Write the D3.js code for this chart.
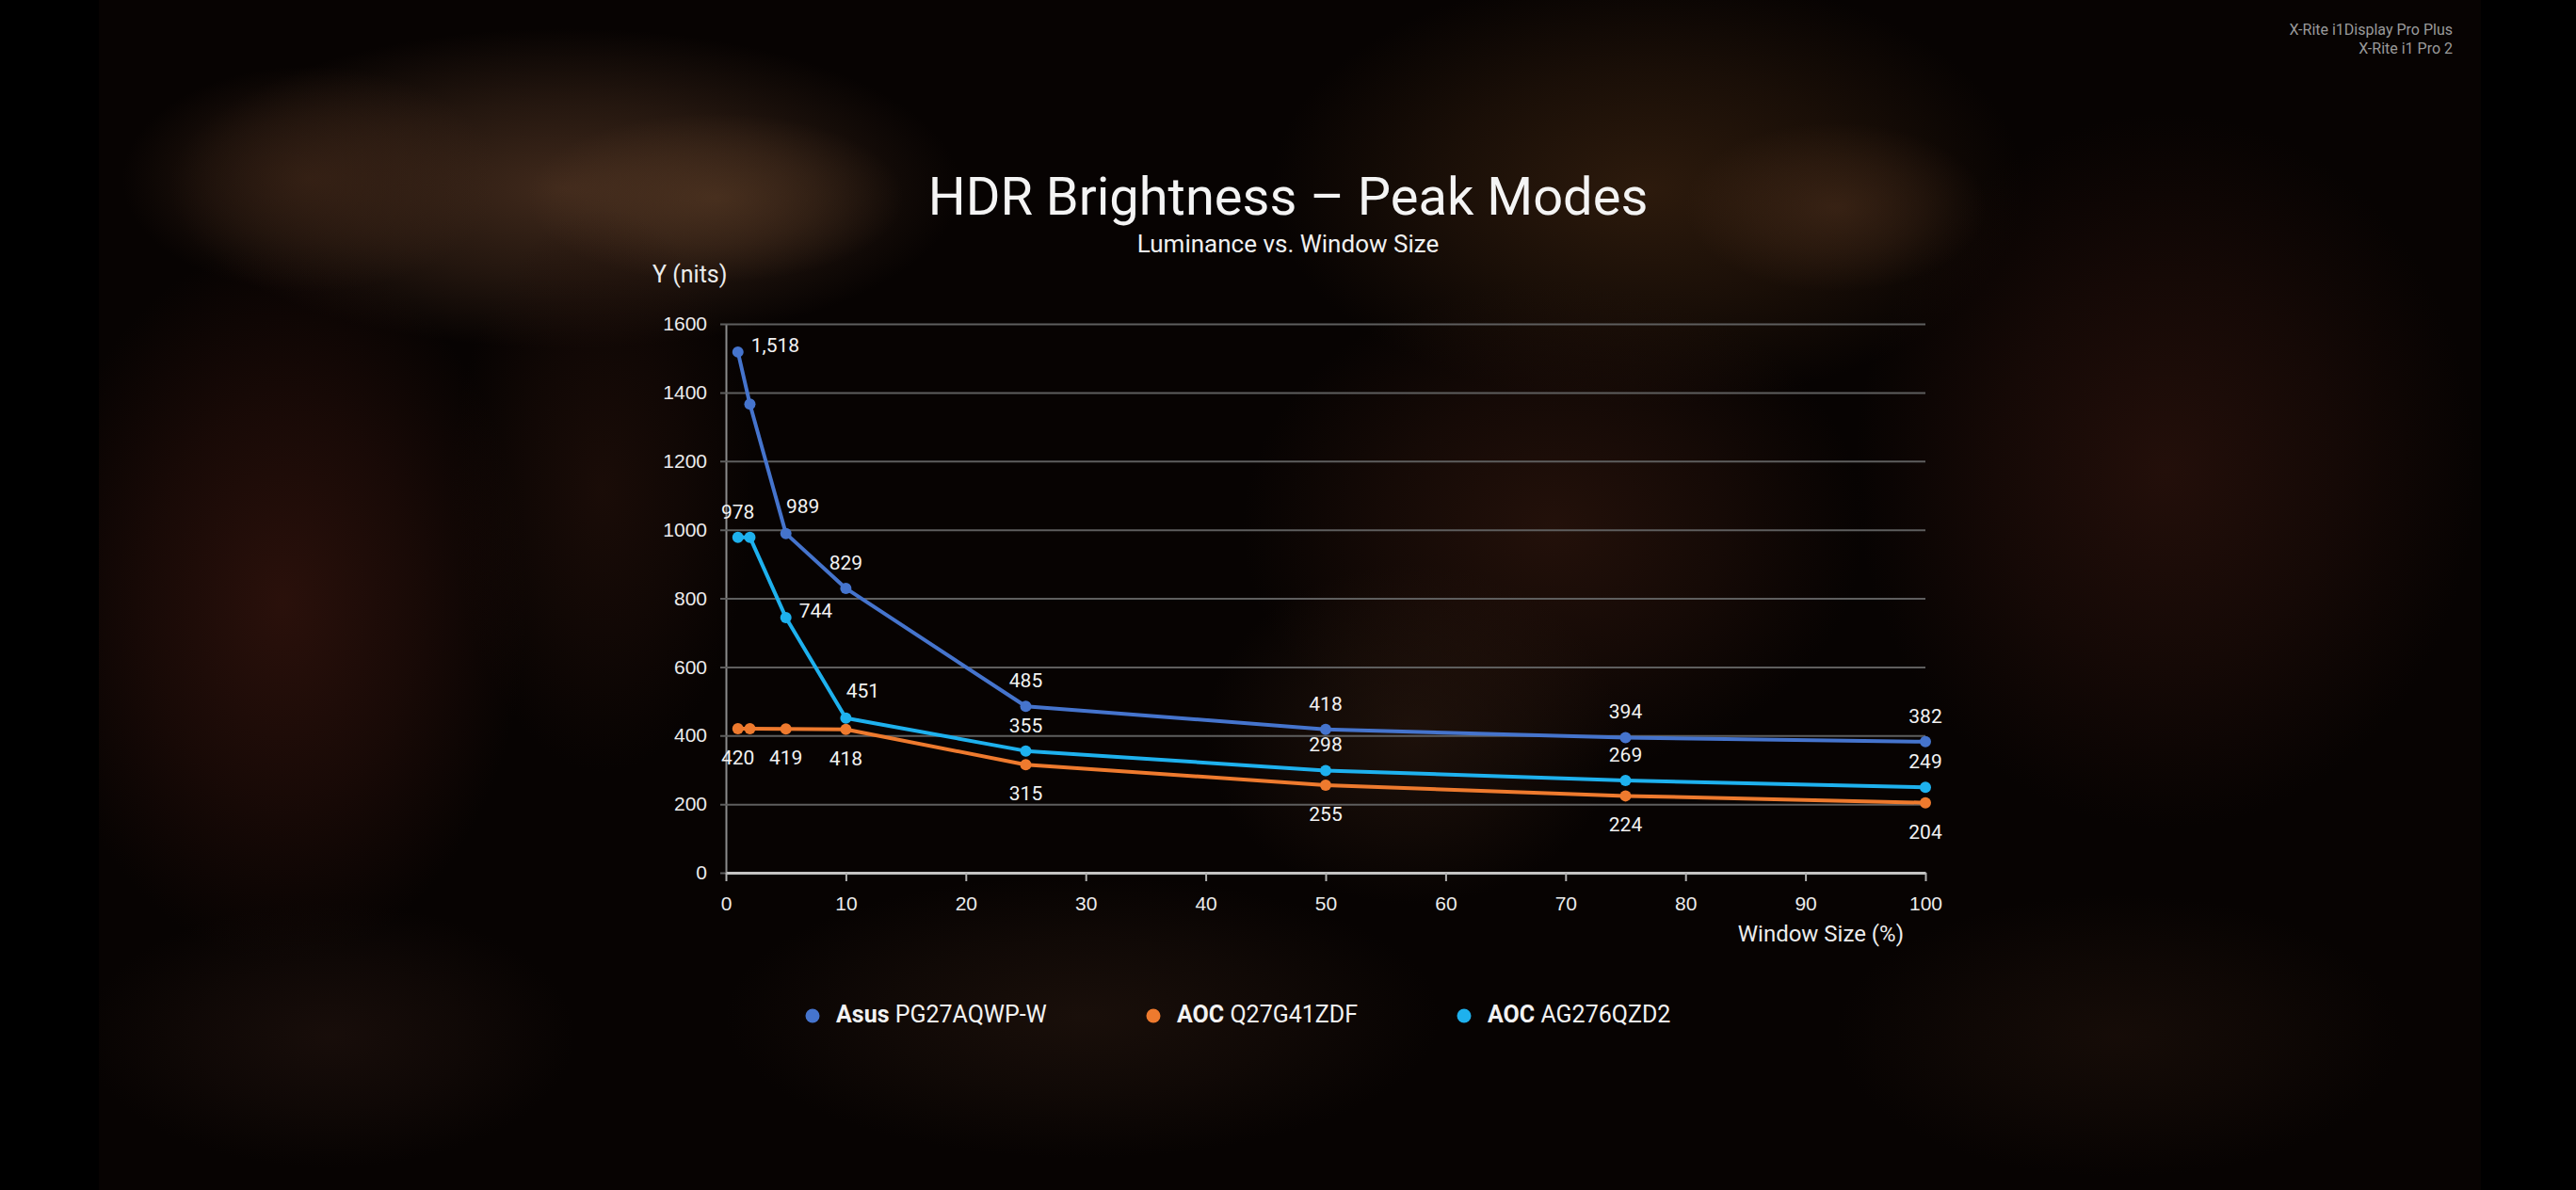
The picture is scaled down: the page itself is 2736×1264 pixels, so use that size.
<!DOCTYPE html>
<html>
<head>
<meta charset="utf-8">
<script src="https://cdn.jsdelivr.net/npm/d3@7"></script>
<style>
  html, body { margin: 0; padding: 0; background: #000; overflow: hidden; }
  svg { display: block; font-family: Roboto, "Noto Sans", sans-serif; }
</style>
</head>
<body>
<div id="chart"></div>
<script>
// ---- data ----
var windowSizes = [1, 2, 5, 10, 25, 50, 75, 100];
var asusValues  = [1518, 1366, 989, 829, 485, 418, 394, 382];
var q27Values   = [420, 420, 419, 418, 315, 255, 224, 204];
var ag276Values = [978, 978, 744, 451, 355, 298, 269, 249];
// where each value label sits: a = above, b = below, r = right, ar = above right, '' = none
var asusLabelPos  = ['r', '', 'ar', 'a', 'a', 'a', 'a', 'a'];
var q27LabelPos   = ['b', '', 'b', 'b', 'b', 'b', 'b', 'b'];
var ag276LabelPos = ['a', '', 'r', 'ar', 'a', 'a', 'a', 'a'];
var seriesBrands = ['Asus', 'AOC', 'AOC'];
var seriesModels = ['PG27AQWP-W', 'Q27G41ZDF', 'AG276QZD2'];
var seriesColors = ['#4574cd', '#ee7a2e', '#1eb1ee'];
var xTicks = [0, 10, 20, 30, 40, 50, 60, 70, 80, 90, 100];
var yTicks = [0, 200, 400, 600, 800, 1000, 1200, 1400, 1600];

var attrs = {
  svgWidth: 2736,
  svgHeight: 1264,
  plotLeft: 771,
  plotRight: 2045,
  plotTop: 344,
  plotBottom: 927,
  textColor: '#ececec'
};

var series = [asusValues, q27Values, ag276Values].map(function (vals, i) {
  var pos = [asusLabelPos, q27LabelPos, ag276LabelPos][i];
  return {
    brand: seriesBrands[i],
    model: seriesModels[i],
    color: seriesColors[i],
    points: vals.map(function (v, j) { return { x: windowSizes[j], y: v, pos: pos[j] }; })
  };
});

var svg = d3.select('#chart').append('svg')
  .attr('width', attrs.svgWidth)
  .attr('height', attrs.svgHeight);

// ---- blurred backdrop (soft radial glows) ----
var defs = svg.append('defs');
var blobs = [
  // cx, cy, rx, ry, colour, opacity
  [600, 200, 420, 170, '#4a3020', 0.85],
  [760, 210, 200, 90, '#5a3c26', 0.6],
  [330, 190, 200, 120, '#3e2618', 0.7],
  [300, 640, 260, 380, '#2e120c', 0.9],
  [640, 520, 160, 300, '#22100a', 0.7],
  [1750, 200, 400, 230, '#36200f', 0.8],
  [1950, 220, 160, 90, '#4a2e1c', 0.6],
  [1650, 560, 330, 260, '#2a140c', 0.8],
  [2300, 500, 330, 380, '#2a120c', 0.8],
  [1500, 780, 220, 180, '#2c1a10', 0.6],
  [1150, 1080, 380, 150, '#1e120c', 0.8],
  [350, 1100, 260, 140, '#1c100c', 0.8],
  [2250, 1100, 300, 150, '#1c100a', 0.7]
];
blobs.forEach(function (b, i) {
  var g = defs.append('radialGradient').attr('id', 'glow' + i);
  g.append('stop').attr('offset', '0%').attr('stop-color', b[4]).attr('stop-opacity', b[5]);
  g.append('stop').attr('offset', '55%').attr('stop-color', b[4]).attr('stop-opacity', b[5] * 0.5);
  g.append('stop').attr('offset', '100%').attr('stop-color', b[4]).attr('stop-opacity', 0);
});

svg.append('rect').attr('width', attrs.svgWidth).attr('height', attrs.svgHeight).attr('fill', '#000');
svg.append('rect').attr('x', 105).attr('width', 2530).attr('height', attrs.svgHeight).attr('fill', '#070302');
svg.append('g').selectAll('ellipse').data(blobs).enter().append('ellipse')
  .attr('cx', function (d) { return d[0]; })
  .attr('cy', function (d) { return d[1]; })
  .attr('rx', function (d) { return d[2]; })
  .attr('ry', function (d) { return d[3]; })
  .attr('fill', function (d, i) { return 'url(#glow' + i + ')'; });
// dark edges and the dark vertical band
svg.append('rect').attr('width', 105).attr('height', attrs.svgHeight).attr('fill', '#000');
svg.append('rect').attr('x', 2635).attr('width', 101).attr('height', attrs.svgHeight).attr('fill', '#000');

// ---- scales ----
var x = d3.scaleLinear().domain([0, 100]).range([attrs.plotLeft, attrs.plotRight]);
var y = d3.scaleLinear().domain([0, 1600]).range([attrs.plotBottom, attrs.plotTop]);

// ---- titles ----
svg.append('text').attr('x', 1368).attr('y', 228)
  .attr('text-anchor', 'middle').attr('font-size', 56).attr('fill', '#f4f4f4')
  .text('HDR Brightness \u2013 Peak Modes');
svg.append('text').attr('x', 1368).attr('y', 268)
  .attr('text-anchor', 'middle').attr('font-size', 26).attr('fill', '#f0f0f0')
  .text('Luminance vs. Window Size');

svg.append('text').attr('x', 2605).attr('y', 37)
  .attr('text-anchor', 'end').attr('font-size', 16).attr('fill', '#9a9a9a')
  .text('X-Rite i1Display Pro Plus');
svg.append('text').attr('x', 2605).attr('y', 57)
  .attr('text-anchor', 'end').attr('font-size', 16).attr('fill', '#9a9a9a')
  .text('X-Rite i1 Pro 2');

// ---- axes ----
var yAxis = svg.append('g').attr('class', 'axis axis--y')
  .attr('transform', 'translate(' + attrs.plotLeft + ',0)')
  .call(d3.axisLeft(y).tickValues(yTicks).tickFormat(d3.format('d'))
    .tickSize(-(attrs.plotRight - attrs.plotLeft)).tickSizeOuter(0).tickPadding(20));
yAxis.select('.domain').attr('stroke', '#8c8c8c').attr('stroke-width', 2);
yAxis.selectAll('.tick line').attr('stroke', '#5e5e5e').attr('stroke-width', 2).attr('x1', -6);
yAxis.selectAll('.tick text').attr('font-size', 21).attr('fill', attrs.textColor);

var xAxis = svg.append('g').attr('class', 'axis axis--x')
  .attr('transform', 'translate(0,' + attrs.plotBottom + ')')
  .call(d3.axisBottom(x).tickValues(xTicks).tickSize(9).tickSizeOuter(0).tickPadding(16));
xAxis.select('.domain').attr('stroke', '#c4c4c4').attr('stroke-width', 3);
xAxis.selectAll('.tick line').attr('stroke', '#b0b0b0').attr('stroke-width', 2);
xAxis.selectAll('.tick text').attr('font-size', 21).attr('fill', attrs.textColor);

svg.append('text').attr('x', 693).attr('y', 300)
  .attr('font-size', 25).attr('fill', attrs.textColor).text('Y (nits)');
svg.append('text').attr('x', 2022).attr('y', 1000)
  .attr('text-anchor', 'end').attr('font-size', 24).attr('fill', attrs.textColor).text('Window Size (%)');

// ---- lines and markers ----
var line = d3.line().x(function (d) { return x(d.x); }).y(function (d) { return y(d.y); });

var sg = svg.selectAll('.series').data(series).enter().append('g').attr('class', 'series');
sg.append('path')
  .attr('d', function (d) { return line(d.points); })
  .attr('fill', 'none')
  .attr('stroke', function (d) { return d.color; })
  .attr('stroke-width', 4)
  .attr('stroke-linejoin', 'round');
sg.selectAll('circle').data(function (d) { return d.points.map(function (p) { return { p: p, c: d.color }; }); })
  .enter().append('circle')
  .attr('cx', function (d) { return x(d.p.x); })
  .attr('cy', function (d) { return y(d.p.y); })
  .attr('r', 6)
  .attr('fill', function (d) { return d.c; });

// ---- value labels ----
var fmt = d3.format(',');
var offsets = {
  a:  { dx: 0,  dy: -20, anchor: 'middle' },
  b:  { dx: 0,  dy: 38,  anchor: 'middle' },
  r:  { dx: 14, dy: 0,   anchor: 'start' },
  ar: { dx: 18, dy: -22, anchor: 'middle' }
};
var labels = [];
series.forEach(function (s) {
  s.points.forEach(function (p) { if (p.pos) labels.push(p); });
});
svg.append('g').selectAll('text').data(labels).enter().append('text')
  .attr('x', function (d) { return x(d.x) + offsets[d.pos].dx; })
  .attr('y', function (d) { return y(d.y) + offsets[d.pos].dy; })
  .attr('text-anchor', function (d) { return offsets[d.pos].anchor; })
  .attr('font-size', 21)
  .attr('fill', '#f2f2f2')
  .text(function (d) { return fmt(d.y); });

// ---- legend ----
var legendX = [863, 1225, 1555];
var lg = svg.append('g').selectAll('g').data(series).enter().append('g')
  .attr('transform', function (d, i) { return 'translate(' + legendX[i] + ',1079)'; });
lg.append('circle').attr('r', 7.5).attr('fill', function (d) { return d.color; });
var lt = lg.append('text').attr('x', 25).attr('y', 7).attr('font-size', 25).attr('fill', '#f2f2f2');
lt.append('tspan').attr('font-weight', 'bold').text(function (d) { return d.brand; });
lt.append('tspan').text(function (d) { return ' ' + d.model; });
</script>
</body>
</html>
